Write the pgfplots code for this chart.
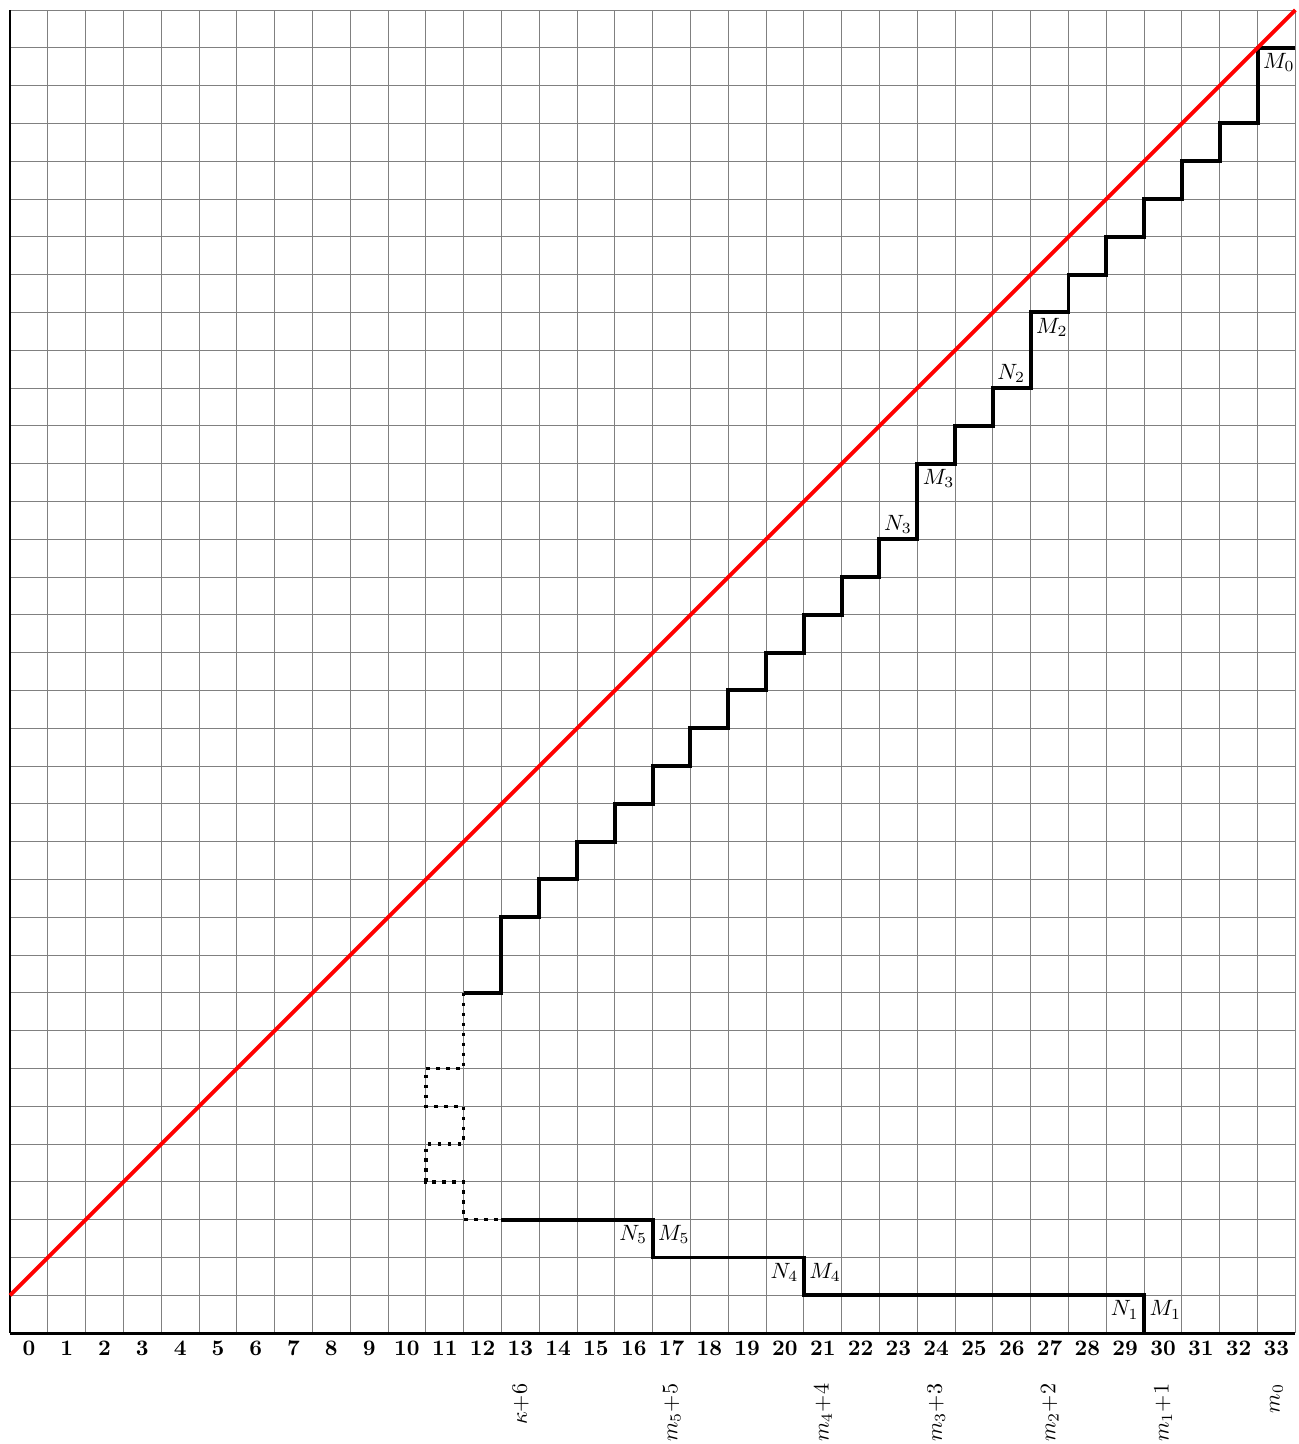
\documentclass[border=0pt]{standalone}
\usepackage{pgfplots}
\pgfplotsset{compat=1.18}
\begin{document}
\begin{tikzpicture}
\begin{axis}[
  x=0.6cm, y=0.6cm,
  xmin=-0.5, xmax=33.5, ymin=0, ymax=35,
  axis lines=left,
  axis line style={-, black, line width=1.3pt},
  xtick={0,...,33},
  minor xtick={-0.5,0.5,...,33.5},
  ytick={0,...,35},
  yticklabels={},
  major tick length=0pt, minor tick length=0pt,
  xmajorgrids=false, xminorgrids=true, ymajorgrids=true,
  grid style={gray, line width=0.45pt},
  minor grid style={gray, line width=0.45pt},
  /pgf/number format/assume math mode=true,
  xticklabel style={font=\bfseries},
  clip=false,
]
% staircase, upper solid part
\addplot[black, line width=1.8pt, line join=miter] coordinates {
(33.5,34) (32.5,34) (32.5,32) (31.5,32) (31.5,31) (30.5,31) (30.5,30)
(29.5,30) (29.5,29) (28.5,29) (28.5,28) (27.5,28) (27.5,27) (26.5,27)
(26.5,25) (25.5,25) (25.5,24) (24.5,24) (24.5,23) (23.5,23) (23.5,21)
(22.5,21) (22.5,20) (21.5,20) (21.5,19) (20.5,19) (20.5,18) (19.5,18)
(19.5,17) (18.5,17) (18.5,16) (17.5,16) (17.5,15) (16.5,15) (16.5,14)
(15.5,14) (15.5,13) (14.5,13) (14.5,12) (13.5,12) (13.5,11) (12.5,11)
(12.5,9) (11.5,9)
};
% dotted part
\addplot[black, line width=1.6pt, dash pattern=on 1.6pt off 2.9pt] coordinates {
(11.5,9) (11.5,7) (10.5,7) (10.5,6) (11.5,6) (11.5,5) (10.5,5) (10.5,4)
(11.5,4) (11.5,3) (12.5,3)
};
% lower solid part
\addplot[black, line width=1.8pt, line join=miter] coordinates {
(12.5,3) (16.5,3) (16.5,2) (20.5,2) (20.5,1) (29.5,1) (29.5,0)
};
% diagonal
\addplot[red, line width=1.8pt] coordinates {(-0.5,1) (33.5,35)};

\begin{scope}[every node/.style={inner sep=2.3pt}]
\node[anchor=north west] at (axis cs:32.5,34) {$M_0$};
\node[anchor=north west] at (axis cs:26.5,27) {$M_2$};
\node[anchor=south east] at (axis cs:26.5,25) {$N_2$};
\node[anchor=north west] at (axis cs:23.5,23) {$M_3$};
\node[anchor=south east] at (axis cs:23.5,21) {$N_3$};
\node[anchor=north east] at (axis cs:16.5,3) {$N_5$};
\node[anchor=north west] at (axis cs:16.5,3) {$M_5$};
\node[anchor=north east] at (axis cs:20.5,2) {$N_4$};
\node[anchor=north west] at (axis cs:20.5,2) {$M_4$};
\node[anchor=north east] at (axis cs:29.5,1) {$N_1$};
\node[anchor=north west] at (axis cs:29.5,1) {$M_1$};
\end{scope}

\node[rotate=90, anchor=east] at ([yshift=-0.68cm]axis cs:13,0) {$\kappa$+6};
\node[rotate=90, anchor=east] at ([yshift=-0.68cm]axis cs:17,0) {$m_5$+5};
\node[rotate=90, anchor=east] at ([yshift=-0.68cm]axis cs:21,0) {$m_4$+4};
\node[rotate=90, anchor=east] at ([yshift=-0.68cm]axis cs:24,0) {$m_3$+3};
\node[rotate=90, anchor=east] at ([yshift=-0.68cm]axis cs:27,0) {$m_2$+2};
\node[rotate=90, anchor=east] at ([yshift=-0.68cm]axis cs:30,0) {$m_1$+1};
\node[rotate=90, anchor=east] at ([yshift=-0.68cm]axis cs:33,0) {$m_0$};
\end{axis}
\pgfresetboundingbox
\path[use as bounding box] ([xshift=-0.159cm,yshift=-1.76cm]current axis.south west) rectangle ([xshift=0.048cm,yshift=0.159cm]current axis.north east);
\end{tikzpicture}
\end{document}
